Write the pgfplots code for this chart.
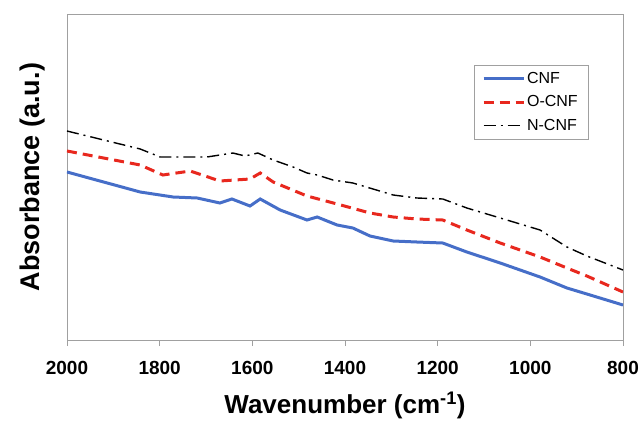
\documentclass[border=0pt]{standalone}
\usepackage{fontspec}
\setmainfont{Liberation Sans}
\usepackage{pgfplots}
\pgfplotsset{compat=1.18}
\definecolor{cnfblue}{RGB}{70,110,200}
\definecolor{ocnfred}{RGB}{232,40,30}
\definecolor{framegray}{RGB}{160,160,160}

\begin{document}
\begin{tikzpicture}
\useasboundingbox (-67pt,-81pt) rectangle (572pt,340pt);
\begin{axis}[
    at={(0,0)}, anchor=south west,
    scale only axis,
    width=556pt, height=326pt,
    x dir=reverse,
    xmin=800, xmax=2000,
    ymin=0, ymax=326,
    xtick={800,1000,...,2000},
    ytick=\empty,
    xtick pos=bottom,
    xtick align=outside,
    major tick length=6pt,
    tick style={framegray, line width=0.8pt},
    axis line style={framegray, line width=0.9pt},
    /pgf/number format/assume math mode=true,
    /pgf/number format/1000 sep={},
    xticklabel style={font=\fontsize{19}{21}\selectfont\bfseries, yshift=-12pt},
    xlabel={\textbf{Wavenumber (cm\textsuperscript{-1})}},
    xlabel style={font=\fontsize{26}{29}\selectfont, yshift=-10pt},
    ylabel={\textbf{Absorbance (a.u.)}},
    ylabel style={font=\fontsize{27}{30}\selectfont, yshift=18pt},
    legend style={at={(0.937,0.844)}, anchor=north east, draw=framegray,
        font=\fontsize{16}{18}\selectfont, row sep=7pt,
        inner xsep=8pt, inner ysep=5pt},
    legend cell align=left,
    legend image code/.code={\draw[#1] (0pt,0pt) -- (40pt,0pt);},
]
\addplot[cnfblue, line width=3pt] coordinates {
(2000,168) (1842,148) (1771,143) (1719,142) (1670,137) (1644,141) (1605,134)
(1583,141) (1540,130) (1482,120) (1460,123) (1417,115) (1383,112) (1346,104)
(1296,99) (1245,98) (1189,97) (1137,88) (1065,77) (979,63) (921,52) (878,46) (800,35)
};
\addlegendentry{CNF}
\addplot[ocnfred, line width=3pt, dash pattern=on 10pt off 6pt] coordinates {
(2000,189) (1842,175) (1793,165) (1734,169) (1670,159) (1605,161) (1583,167)
(1555,158) (1482,144) (1417,136) (1346,127) (1296,123) (1245,121) (1189,120)
(1137,110) (1065,97) (979,83) (921,72) (878,64) (800,48)
};
\addlegendentry{O-CNF}
\addplot[black, line width=1.4pt, dash pattern=on 12pt off 5pt on 2pt off 5pt] coordinates {
(2000,209) (1842,191) (1799,183) (1757,183) (1698,183) (1642,187) (1616,184)
(1588,187) (1555,180) (1512,173) (1482,167) (1460,165) (1426,160) (1383,157)
(1296,145) (1245,142) (1189,141) (1137,132) (1065,122) (979,110) (921,93) (878,84) (800,70)
};
\addlegendentry{N-CNF}
\end{axis}
\end{tikzpicture}
\end{document}
